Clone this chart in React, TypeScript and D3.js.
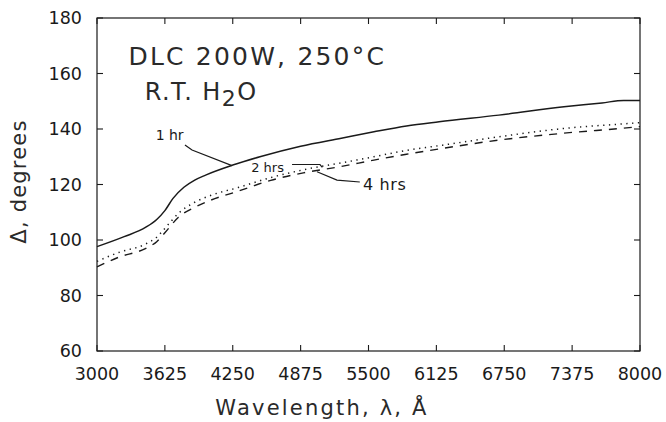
import React from "react";
import * as d3 from "d3";

// wavelength (Angstrom) / delta (degrees)
const hr1Wave = [3000, 3250, 3450, 3550, 3625, 3700, 3800, 3900, 4000, 4250, 4500, 4875, 5250, 5550, 5850, 6150, 6700, 7300, 7650, 7850, 8000];
const hr1Delta = [97.6, 101.2, 104.6, 107.4, 110.6, 115, 119, 121.6, 123.4, 127, 130, 133.8, 136.7, 139, 141.1, 142.6, 145, 148, 149.4, 150.3, 150.3];

const hr2Wave = [3000, 3200, 3450, 3550, 3625, 3750, 3900, 4050, 4300, 4600, 4900, 5250, 5550, 5850, 6150, 6700, 7300, 7900, 8000];
const hr2Delta = [92.3, 95.5, 98.6, 101, 104.2, 109.6, 113.6, 116.1, 118.9, 122.5, 125.3, 127.8, 130, 132.3, 134, 137.2, 140.2, 142, 142.3];

const hr4Wave = [3000, 3200, 3450, 3550, 3625, 3750, 3900, 4050, 4300, 4600, 4900, 5250, 5550, 5850, 6150, 6700, 7300, 7900, 8000];
const hr4Delta = [90.3, 93.8, 97, 99.4, 102.6, 108.2, 111.8, 114.4, 117.6, 121.5, 124.2, 126.5, 128.8, 130.9, 132.8, 136, 138.5, 140.5, 140.9];

const xTicks = [3000, 3625, 4250, 4875, 5500, 6125, 6750, 7375, 8000];
const yTicks = [60, 80, 100, 120, 140, 160, 180];

const W = 666;
const H = 422;
const margin = { top: 18, right: 26, bottom: 71, left: 97 };
const font = "'DejaVu Sans', Verdana, sans-serif";
const ink = "#1a1a1a";

export default function App() {
  const x = d3.scaleLinear().domain([3000, 8000]).range([margin.left, W - margin.right]);
  const y = d3.scaleLinear().domain([60, 180]).range([H - margin.bottom, margin.top]);

  const line = d3
    .line<[number, number]>()
    .x((d) => x(d[0]))
    .y((d) => y(d[1]))
    .curve(d3.curveMonotoneX);

  const zip = (a: number[], b: number[]) => a.map((v, i) => [v, b[i]] as [number, number]);

  const series = [
    { pts: zip(hr1Wave, hr1Delta), dash: undefined, width: 1.5 },
    { pts: zip(hr2Wave, hr2Delta), dash: "1.3,4.5", width: 1.5 },
    { pts: zip(hr4Wave, hr4Delta), dash: "8,7", width: 1.4 },
  ];

  const leader = d3.line<[number, number]>().x((d) => x(d[0])).y((d) => y(d[1]));

  // leader lines for the curve labels, in data units
  const lead1: [number, number][] = [[3810, 134.2], [3875, 132.4], [4243, 126.8]];
  const lead2: [number, number][] = [[4796, 127.2], [5053, 127.2], [5075, 126.2]];
  const lead4: [number, number][] = [[5420, 120.9], [5210, 121.6], [5026, 124.6]];

  const x0 = margin.left;
  const x1 = W - margin.right;
  const y0 = H - margin.bottom;
  const y1 = margin.top;
  const tk = 6;

  return (
    <svg width={W} height={H} style={{ position: "absolute", left: 0, top: 0, background: "#fff" }}>
      <rect x={0} y={0} width={W} height={H} fill="#fff" />

      {/* frame */}
      <rect x={x0} y={y1} width={x1 - x0} height={y0 - y1} fill="none" stroke={ink} strokeWidth={1.2} />

      {xTicks.map((t) => (
        <g key={"x" + t}>
          <line x1={x(t)} x2={x(t)} y1={y0} y2={y0 - tk} stroke={ink} strokeWidth={1.1} />
          <line x1={x(t)} x2={x(t)} y1={y1} y2={y1 + tk} stroke={ink} strokeWidth={1.1} />
          <text x={x(t)} y={y0 + 29} textAnchor="middle" fontFamily={font} fontSize={17.5} fill={ink}>
            {t}
          </text>
        </g>
      ))}

      {yTicks.map((t) => (
        <g key={"y" + t}>
          <line x1={x0} x2={x0 + tk} y1={y(t)} y2={y(t)} stroke={ink} strokeWidth={1.1} />
          <line x1={x1} x2={x1 - tk} y1={y(t)} y2={y(t)} stroke={ink} strokeWidth={1.1} />
          <text x={x0 - 15} y={y(t) + 6} textAnchor="end" fontFamily={font} fontSize={17.5} fill={ink}>
            {t}
          </text>
        </g>
      ))}

      {/* curves */}
      {series.map((s, i) => (
        <path
          key={i}
          d={line(s.pts) ?? ""}
          fill="none"
          stroke={ink}
          strokeWidth={s.width}
          strokeDasharray={s.dash}
        />
      ))}

      {/* labels */}
      {[lead1, lead2, lead4].map((l, i) => (
        <path key={"l" + i} d={leader(l) ?? ""} fill="none" stroke={ink} strokeWidth={1.2} />
      ))}
      <text x={x(3540)} y={y(136)} fontFamily={font} fontSize={14} fill={ink}>1 hr</text>
      <text x={x(4420)} y={y(124.6)} fontFamily={font} fontSize={13} fill={ink}>2 hrs</text>
      <text x={x(5450)} y={y(118)} fontFamily={font} fontSize={16} letterSpacing={0.6} fill={ink}>4 hrs</text>

      <text x={x(3290)} y={y(163)} fontFamily={font} fontSize={25} letterSpacing={2.2} fill="#2a2a2a">
        DLC 200W, 250°C
      </text>
      <text x={x(3440)} y={y(150.5)} fontFamily={font} fontSize={24} letterSpacing={1.4} fill="#2a2a2a">
        R.T. H<tspan dy={6} fontSize={22}>2</tspan><tspan dy={-6}>O</tspan>
      </text>

      {/* axis titles */}
      <text x={322} y={415} textAnchor="middle" fontFamily={font} fontSize={21} letterSpacing={2.2} fill="#2a2a2a">
        Wavelength, λ, Å
      </text>
      <text
        transform={`translate(26,${(y0 + y1) / 2 - 3}) rotate(-90)`}
        textAnchor="middle"
        fontFamily={font}
        fontSize={21}
        letterSpacing={1.2}
        fill="#2a2a2a"
      >
        Δ, degrees
      </text>
    </svg>
  );
}
